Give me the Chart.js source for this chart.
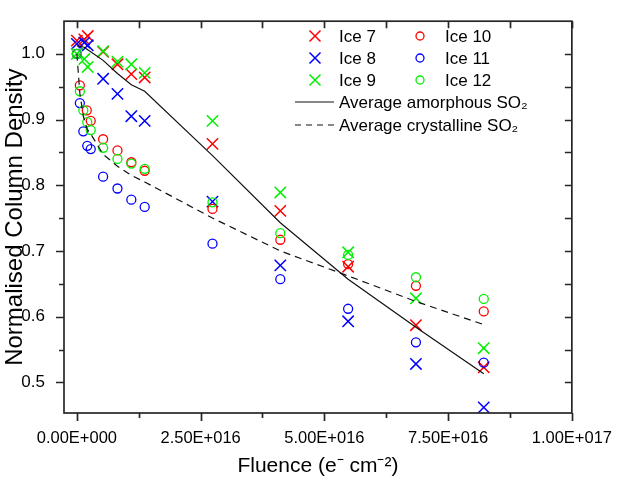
<!DOCTYPE html>
<html>
<head>
<meta charset="utf-8">
<script src="https://cdn.jsdelivr.net/npm/chart.js@4"></script>
<style>
  html, body { margin: 0; padding: 0; background: #fff; }
  #wrap { width: 620px; height: 485px; }
</style>
</head>
<body>
<div id="wrap"><canvas id="chart" width="620" height="485"></canvas></div>
<script>
  // axis ticks
  const xTickValues = [0, 2.5e16, 5e16, 7.5e16, 1e17];
  const xTickLabels = ['0.00E+000', '2.50E+016', '5.00E+016', '7.50E+016', '1.00E+017'];
  const xMinorTicks = [1.25e16, 3.75e16, 6.25e16, 8.75e16];
  const yTickValues = [0.5, 0.6, 0.7, 0.8, 0.9, 1.0];
  const yTickLabels = ['0.5', '0.6', '0.7', '0.8', '0.9', '1.0'];
  const yMinorTicks = [0.55, 0.65, 0.75, 0.85, 0.95];

  // fluence (e- cm-2) for the amorphous ices (crosses)
  const fluenceCross = [0, 1.5e15, 2.2e15, 5.3e15, 8.2e15, 1.1e16, 1.37e16, 2.74e16, 4.11e16, 5.48e16, 6.85e16, 8.22e16];
  const ice7 = [1.020, 1.022, 1.027, 1.003, 0.984, 0.969, 0.964, 0.863, 0.761, 0.676, 0.587, 0.523];
  const ice8 = [1.015, 1.017, 1.013, 0.962, 0.939, 0.905, 0.898, 0.775, 0.678, 0.593, 0.528, 0.462];
  const ice9 = [1.000, 0.992, 0.980, 1.004, 0.988, 0.984, 0.971, 0.898, 0.789, 0.698, 0.628, 0.552];
  const avgAmorphous = [1.012, 1.010, 1.006, 0.990, 0.970, 0.953, 0.943, 0.845, 0.743, 0.657, 0.584, 0.513];

  // fluence for the crystalline ices (circles)
  const fluenceIce10 = [0, 0.6e15, 2.0e15, 2.8e15, 5.3e15, 8.2e15, 1.1e16, 1.37e16, 2.74e16, 4.11e16, 5.48e16, 6.85e16, 8.22e16];
  const ice10 = [1.000, 0.952, 0.914, 0.898, 0.870, 0.853, 0.835, 0.822, 0.764, 0.717, 0.680, 0.647, 0.608];
  const fluenceCircle = [0, 0.6e15, 1.3e15, 2.1e15, 2.8e15, 5.3e15, 8.2e15, 1.1e16, 1.37e16, 2.74e16, 4.11e16, 5.48e16, 6.85e16, 8.22e16];
  const ice11 = [1.000, 0.925, 0.882, 0.860, 0.855, 0.813, 0.795, 0.778, 0.767, 0.711, 0.657, 0.612, 0.561, 0.530];
  const ice12 = [1.000, 0.943, 0.914, 0.896, 0.884, 0.857, 0.840, 0.833, 0.825, 0.774, 0.727, 0.694, 0.660, 0.627];
  const avgCrystalline = [1.000, 0.940, 0.905, 0.885, 0.878, 0.847, 0.829, 0.815, 0.805, 0.750, 0.700, 0.662, 0.623, 0.588];

  const FONT = '"Liberation Sans", Arial, sans-serif';
  const RED = '#ff0000', BLUE = '#0000ff', GREEN = '#00f000';

  const pairs = (xs, ys) => ys.map((y, i) => ({ x: xs[i], y: y }));

  function crossSet(label, xs, ys, color, order) {
    return {
      label: label, data: pairs(xs, ys), showLine: false, order: order,
      pointStyle: 'crossRot', pointRadius: 8, pointHoverRadius: 8,
      pointBorderWidth: 1.5, borderColor: color, backgroundColor: color,
      legendMarker: 'cross'
    };
  }
  function circleSet(label, xs, ys, color, order) {
    return {
      label: label, data: pairs(xs, ys), showLine: false, order: order,
      pointStyle: 'circle', pointRadius: 4.5, pointHoverRadius: 4.5,
      pointBorderWidth: 1.3, borderColor: color, backgroundColor: 'rgba(0,0,0,0)',
      legendMarker: 'circle'
    };
  }
  function lineSet(label, xs, ys, dash) {
    return {
      label: label, data: pairs(xs, ys), showLine: true, order: 0,
      borderColor: '#111', borderWidth: 1.2, borderDash: dash,
      pointRadius: 0, tension: 0, fill: false, legendMarker: 'line'
    };
  }

  const datasets = [
    crossSet('Ice 7', fluenceCross, ice7, RED, 6),
    crossSet('Ice 8', fluenceCross, ice8, BLUE, 5),
    crossSet('Ice 9', fluenceCross, ice9, GREEN, 4),
    circleSet('Ice 10', fluenceIce10, ice10, RED, 3),
    circleSet('Ice 11', fluenceCircle, ice11, BLUE, 2),
    circleSet('Ice 12', fluenceCircle, ice12, GREEN, 1),
    lineSet('Average amorphous SO\u2082', fluenceCross, avgAmorphous, []),
    lineSet('Average crystalline SO\u2082', fluenceCircle, avgCrystalline, [7, 5])
  ];

  // frame with Origin style ticks: outward on left/bottom, inward on top/right
  const framePlugin = {
    id: 'frame',
    afterDraw(chart) {
      const { ctx, chartArea: a } = chart;
      const xs = chart.scales.x, ys = chart.scales.y;
      ctx.save();
      ctx.strokeStyle = '#262626';
      ctx.lineWidth = 1.7;
      ctx.strokeRect(a.left, a.top, a.right - a.left, a.bottom - a.top);
      ctx.beginPath();
      xTickValues.concat(xMinorTicks).forEach(v => {
        const px = Math.round(xs.getPixelForValue(v)) + 0.5;
        const len = xTickValues.includes(v) ? 8 : 5;
        ctx.moveTo(px, a.bottom); ctx.lineTo(px, a.bottom + len);
        ctx.moveTo(px, a.top); ctx.lineTo(px, a.top + 7);
      });
      yTickValues.concat(yMinorTicks).forEach(v => {
        const py = Math.round(ys.getPixelForValue(v)) + 0.5;
        const len = yTickValues.includes(v) ? 8 : 5;
        ctx.moveTo(a.left, py); ctx.lineTo(a.left - len, py);
        ctx.moveTo(a.right, py); ctx.lineTo(a.right - 7, py);
      });
      ctx.stroke();
      ctx.restore();
    }
  };

  // legend laid out like the Origin one: 3x2 markers then two line entries
  const legendPlugin = {
    id: 'originLegend',
    afterDraw(chart) {
      const ctx = chart.ctx;
      const rows = [36, 58, 80, 102, 125];
      const slots = [[315, 339, 0], [315, 339, 1], [315, 339, 2], [420, 445, 0], [420, 445, 1], [420, 445, 2], [314, 339, 3], [314, 339, 4]];
      ctx.save();
      ctx.font = '17px ' + FONT;
      ctx.textBaseline = 'middle';
      chart.data.datasets.forEach((ds, i) => {
        const [mx, tx, r] = slots[i];
        const y = rows[r];
        ctx.strokeStyle = ds.borderColor;
        ctx.setLineDash([]);
        if (ds.legendMarker === 'cross') {
          ctx.lineWidth = 1.5;
          ctx.beginPath();
          ctx.moveTo(mx - 5.5, y - 5.5); ctx.lineTo(mx + 5.5, y + 5.5);
          ctx.moveTo(mx + 5.5, y - 5.5); ctx.lineTo(mx - 5.5, y + 5.5);
          ctx.stroke();
        } else if (ds.legendMarker === 'circle') {
          ctx.lineWidth = 1.3;
          ctx.beginPath();
          ctx.arc(mx, y, 4, 0, Math.PI * 2);
          ctx.stroke();
        } else {
          ctx.lineWidth = 1.2;
          ctx.setLineDash(ds.borderDash.length ? [6, 5] : []);
          ctx.beginPath();
          ctx.moveTo(295, y); ctx.lineTo(334, y);
          ctx.stroke();
          ctx.setLineDash([]);
        }
        ctx.fillStyle = '#000';
        ctx.fillText(ds.label, tx, y + 1);
      });
      ctx.restore();
    }
  };

  new Chart(document.getElementById('chart'), {
    type: 'scatter',
    data: { datasets: datasets },
    plugins: [framePlugin, legendPlugin],
    options: {
      responsive: false,
      animation: false,
      layout: { padding: { left: 0, right: 47, top: 3, bottom: 0 } },
      plugins: { legend: { display: false }, tooltip: { enabled: false } },
      scales: {
        x: {
          type: 'linear', min: -2.6e15, max: 1e17,
          afterBuildTicks: s => { s.ticks = xTickValues.map(v => ({ value: v })); },
          afterFit: s => { s.height = 72; },
          grid: { display: false }, border: { display: false },
          ticks: {
            autoSkip: false, maxRotation: 0, padding: 8, color: '#000',
            font: { family: FONT, size: 16.5 },
            callback: (v, i) => xTickLabels[i]
          },
          title: {
            display: true, text: 'Fluence (e\u207B cm\u207B\u00B2)', color: '#000',
            font: { family: FONT, size: 21 }, padding: { top: 0, bottom: 6 }
          }
        },
        y: {
          type: 'linear', min: 0.4534, max: 1.0496,
          afterBuildTicks: s => { s.ticks = yTickValues.map(v => ({ value: v })); },
          afterFit: s => { s.width = 64; },
          grid: { display: false }, border: { display: false },
          ticks: {
            padding: 11, color: '#000',
            font: { family: FONT, size: 17 },
            callback: (v, i) => yTickLabels[i]
          },
          title: {
            display: true, text: 'Normalised Column Density', color: '#000',
            font: { family: FONT, size: 24 }, padding: { top: 1, bottom: 0 }
          }
        }
      }
    }
  });
</script>
</body>
</html>
